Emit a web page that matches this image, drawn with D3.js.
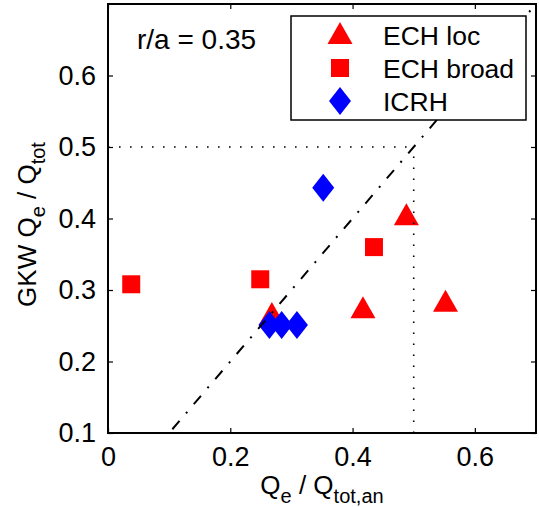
<!DOCTYPE html>
<html>
<head>
<meta charset="utf-8">
<script src="https://cdn.jsdelivr.net/npm/d3@7"></script>
<style>
  html, body { margin: 0; padding: 0; background: #fff; }
  svg { display: block; font-family: "Liberation Sans", Arial, Helvetica, sans-serif; }
</style>
</head>
<body>
<svg id="chart" width="539" height="507"></svg>
<script>
// Electron heat flux fraction: GKW simulation vs. power-balance analysis
const echLocX   = [0.488, 0.417, 0.552, 0.268];
const echLocY   = [0.406, 0.276, 0.285, 0.268];
const echBroadX = [0.038, 0.249, 0.435];
const echBroadY = [0.308, 0.315, 0.360];
const icrhX     = [0.352, 0.264, 0.284, 0.309];
const icrhY     = [0.443, 0.251, 0.251, 0.251];

const xTicks = [0, 0.2, 0.4, 0.6];
const yTicks = [0.1, 0.2, 0.3, 0.4, 0.5, 0.6];
const xDomain = [0, 0.7];
const yDomain = [0.1, 0.7];
const refLevel = 0.5;          // dotted reference lines
const seriesNames = ["ECH loc", "ECH broad", "ICRH"];
const annotation = "r/a = 0.35";

const svg = d3.select("#chart");
const m = { left: 108, right: 3, top: 4, bottom: 74 };
const W = 539, H = 507;
const x = d3.scaleLinear().domain(xDomain).range([m.left, W - m.right]);
const y = d3.scaleLinear().domain(yDomain).range([H - m.bottom, m.top]);

const RED = "#ff0000", BLUE = "#0000ff";
const FS = 26;

// marker shapes
function triangle(cx, cy) {
  const hw = 12.5, hh = 11;
  return `M${cx},${cy - hh}L${cx + hw},${cy + hh}L${cx - hw},${cy + hh}Z`;
}
function square(cx, cy) {
  const h = 9;
  return `M${cx - h},${cy - h}H${cx + h}V${cy + h}H${cx - h}Z`;
}
function diamond(cx, cy) {
  const hw = 11, hh = 14;
  return `M${cx},${cy - hh}L${cx + hw},${cy}L${cx},${cy + hh}L${cx - hw},${cy}Z`;
}

const clipId = "plotclip";
svg.append("clipPath").attr("id", clipId).append("rect")
  .attr("x", x(xDomain[0])).attr("y", y(yDomain[1]))
  .attr("width", x(xDomain[1]) - x(xDomain[0]))
  .attr("height", y(yDomain[0]) - y(yDomain[1]));

const plot = svg.append("g").attr("clip-path", `url(#${clipId})`);

// data markers
plot.selectAll("path.loc").data(d3.zip(echLocX, echLocY)).join("path")
  .attr("class", "loc").attr("d", d => triangle(x(d[0]), y(d[1]))).attr("fill", RED);
plot.selectAll("path.broad").data(d3.zip(echBroadX, echBroadY)).join("path")
  .attr("class", "broad").attr("d", d => square(x(d[0]), y(d[1]))).attr("fill", RED);
plot.selectAll("path.icrh").data(d3.zip(icrhX, icrhY)).join("path")
  .attr("class", "icrh").attr("d", d => diamond(x(d[0]), y(d[1]))).attr("fill", BLUE);

// y = x reference (dash-dot)
plot.append("line")
  .attr("x1", x(0)).attr("y1", y(0)).attr("x2", x(1)).attr("y2", y(1))
  .attr("stroke", "#000").attr("stroke-width", 2)
  .attr("stroke-dasharray", "11 10 2 10");

// dotted lines at 0.5
plot.append("line")
  .attr("x1", x(xDomain[0])).attr("y1", y(refLevel)).attr("x2", x(refLevel)).attr("y2", y(refLevel))
  .attr("stroke", "#000").attr("stroke-width", 1.6).attr("stroke-dasharray", "1.6 9.4");
plot.append("line")
  .attr("x1", x(refLevel)).attr("y1", y(yDomain[0])).attr("x2", x(refLevel)).attr("y2", y(refLevel))
  .attr("stroke", "#000").attr("stroke-width", 1.6).attr("stroke-dasharray", "1.6 9.4");

// axes (ticks point inward on all four sides)
const tickLen = 5;
function styleAxis(g) {
  g.select(".domain").remove();
  g.selectAll(".tick line").attr("stroke", "#000").attr("stroke-width", 1.2);
  g.selectAll(".tick text").attr("font-size", 27).attr("fill", "#000")
    .attr("font-family", "Liberation Sans, Arial, sans-serif");
}
svg.append("g").attr("transform", `translate(0,${y(yDomain[0])})`)
  .call(d3.axisBottom(x).tickValues(xTicks).tickFormat(d3.format("~g"))
    .tickSizeInner(-tickLen).tickSizeOuter(0).tickPadding(14))
  .call(styleAxis);
svg.append("g").attr("transform", `translate(0,${y(yDomain[1])})`)
  .call(d3.axisTop(x).tickValues(xTicks).tickSizeInner(-tickLen).tickSizeOuter(0).tickFormat(""))
  .call(styleAxis);
svg.append("g").attr("transform", `translate(${x(xDomain[0])},0)`)
  .call(d3.axisLeft(y).tickValues(yTicks).tickFormat(d3.format(".1f"))
    .tickSizeInner(-tickLen).tickSizeOuter(0).tickPadding(12))
  .call(styleAxis);
svg.append("g").attr("transform", `translate(${x(xDomain[1])},0)`)
  .call(d3.axisRight(y).tickValues(yTicks).tickSizeInner(-tickLen).tickSizeOuter(0).tickFormat(""))
  .call(styleAxis);

// box
svg.append("rect")
  .attr("x", x(xDomain[0])).attr("y", y(yDomain[1]))
  .attr("width", x(xDomain[1]) - x(xDomain[0]))
  .attr("height", y(yDomain[0]) - y(yDomain[1]))
  .attr("fill", "none").attr("stroke", "#000").attr("stroke-width", 2);

// annotation
svg.append("text").attr("x", 137).attr("y", 49)
  .attr("font-size", 28).attr("fill", "#000").text(annotation);

// axis titles with subscripts
const xl = svg.append("text").attr("x", (x(xDomain[0]) + x(xDomain[1])) / 2).attr("y", 494)
  .attr("text-anchor", "middle").attr("font-size", FS).attr("fill", "#000");
xl.append("tspan").text("Q");
xl.append("tspan").attr("font-size", 20).attr("dy", 9).text("e");
xl.append("tspan").attr("dy", -9).text(" / Q");
xl.append("tspan").attr("font-size", 20).attr("dy", 9).text("tot,an");

const yl = svg.append("text")
  .attr("transform", `translate(36,${(y(yDomain[0]) + y(yDomain[1])) / 2 + 6}) rotate(-90)`)
  .attr("text-anchor", "middle").attr("font-size", FS).attr("fill", "#000");
yl.append("tspan").text("GKW Q");
yl.append("tspan").attr("font-size", 20).attr("dy", 9).text("e");
yl.append("tspan").attr("dy", -9).text("  / Q");
yl.append("tspan").attr("font-size", 20).attr("dy", 9).text("tot");

// legend
const lg = svg.append("g");
lg.append("rect").attr("x", 291).attr("y", 16).attr("width", 235).attr("height", 104)
  .attr("fill", "#fff").attr("stroke", "#000").attr("stroke-width", 1.5);
const rows = [35, 68, 101];
const shapes = [triangle, square, diamond];
const fills = [RED, RED, BLUE];
seriesNames.forEach((name, i) => {
  lg.append("path").attr("d", shapes[i](340, rows[i] - (i === 0 ? 2 : 0))).attr("fill", fills[i]);
  lg.append("text").attr("x", 383).attr("y", rows[i] + 10)
    .attr("font-size", 26.5).attr("fill", "#000").text(name);
});
</script>
</body>
</html>
